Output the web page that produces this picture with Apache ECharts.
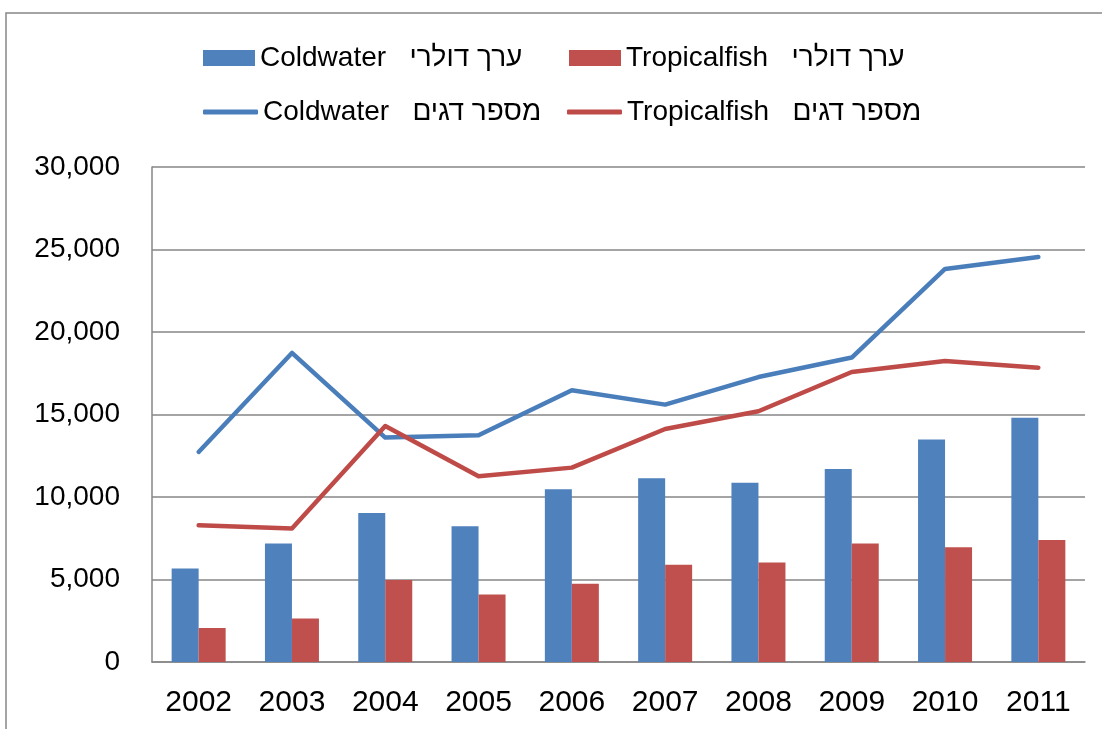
<!DOCTYPE html>
<html>
<head>
<meta charset="utf-8">
<script src="https://cdn.jsdelivr.net/npm/echarts@6/dist/echarts.min.js"></script>
<style>
  html, body { margin: 0; padding: 0; background: #fff; }
  #chart { width: 1102px; height: 729px; }
</style>
</head>
<body>
<div id="chart"></div>
<script>
// years on x axis
var years = ['2002', '2003', '2004', '2005', '2006', '2007', '2008', '2009', '2010', '2011'];
// dollar value (bars)
var coldValue = [5660, 7175, 9030, 8225, 10470, 11130, 10870, 11700, 13480, 14810];
var tropValue = [2060, 2630, 4970, 4085, 4750, 5900, 6025, 7175, 6950, 7395];
// number of fish (lines)
var coldCount = [12730, 18730, 13600, 13740, 16470, 15600, 17270, 18450, 23820, 24545];
var tropCount = [8285, 8085, 14300, 11255, 11780, 14120, 15195, 17575, 18240, 17840];

var names = {
  coldBar: 'Coldwater   ערך דולרי',
  tropBar: 'Tropicalfish   ערך דולרי',
  coldLine: 'Coldwater   מספר דגים',
  tropLine: 'Tropicalfish   מספר דגים'
};

var font = '"Liberation Sans", Arial, "DejaVu Sans", sans-serif';
var gray = '#868686';

// one legend per item so the columns line up like the original
function legendAt(name, left, top, isLine) {
  return {
    data: [{ name: name, icon: isLine ? 'roundRect' : 'rect' }],
    left: left,
    top: top,
    padding: 0,
    itemWidth: isLine ? 55 : 52,
    itemHeight: isLine ? 5 : 16,
    textStyle: { fontFamily: font, fontSize: 28, color: '#000' },
    selectedMode: false
  };
}

var chart = echarts.init(document.getElementById('chart'));
var option = {
  animation: false,
  backgroundColor: '#fff',
  graphic: [{
    type: 'rect',
    shape: { x: 6, y: 13, width: 1200, height: 800 },
    style: { fill: 'none', stroke: gray, lineWidth: 1.5 },
    silent: true
  }],
  legend: [
    legendAt(names.coldBar, 203, 44, false),
    legendAt(names.tropBar, 569, 44, false),
    legendAt(names.coldLine, 203, 98, true),
    legendAt(names.tropLine, 567, 98, true)
  ],
  grid: { left: 152, right: 17, top: 167, bottom: 67 },
  xAxis: {
    type: 'category',
    data: years,
    axisLine: { lineStyle: { color: gray, width: 1.5 } },
    axisTick: { show: false },
    axisLabel: { fontFamily: font, fontSize: 30, color: '#000', margin: 26 }
  },
  yAxis: {
    type: 'value',
    min: 0,
    max: 30000,
    interval: 5000,
    axisLine: { show: true, lineStyle: { color: gray, width: 1.5 } },
    axisTick: { show: false },
    splitLine: { lineStyle: { color: gray, width: 1.5 } },
    axisLabel: {
      fontFamily: font, fontSize: 28, color: '#000', margin: 32,
      formatter: function (v) { return v.toLocaleString('en-US'); }
    }
  },
  series: [{
    name: names.coldBar,
    type: 'bar',
    data: coldValue,
    barWidth: 27,
    barGap: '0%',
    itemStyle: { color: '#4F81BD' }
  }, {
    name: names.tropBar,
    type: 'bar',
    data: tropValue,
    barWidth: 27,
    barGap: '0%',
    itemStyle: { color: '#C0504D' }
  }, {
    name: names.coldLine,
    type: 'line',
    data: coldCount,
    symbol: 'none',
    lineStyle: { color: '#4A7EBB', width: 4.5, cap: 'round', join: 'round' },
    itemStyle: { color: '#4A7EBB' }
  }, {
    name: names.tropLine,
    type: 'line',
    data: tropCount,
    symbol: 'none',
    lineStyle: { color: '#BE4B48', width: 4.5, cap: 'round', join: 'round' },
    itemStyle: { color: '#BE4B48' }
  }]
};
chart.setOption(option);
</script>
</body>
</html>
